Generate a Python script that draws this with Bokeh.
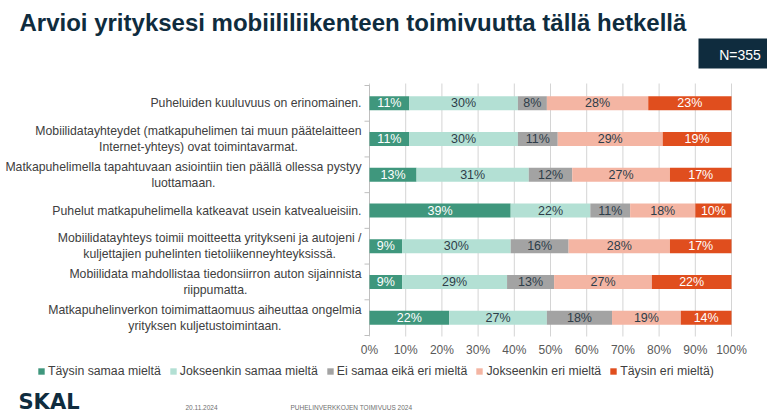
from bokeh.plotting import figure
from bokeh.models import Range1d, Label, Legend, LegendItem
from bokeh.embed import file_html
from bokeh.resources import INLINE
from bokeh.core.properties import value

# ---------------- data ----------------
title_text = "Arvioi yrityksesi mobiililiikenteen toimivuutta tällä hetkellä"
n_text = "N=355"
statements = [
    "Puheluiden kuuluvuus on erinomainen.",
    "Mobiilidatayhteydet (matkapuhelimen tai muun päätelaitteen\nInternet-yhteys) ovat toimintavarmat.",
    "Matkapuhelimella tapahtuvaan asiointiin tien päällä ollessa pystyy\nluottamaan.",
    "Puhelut matkapuhelimella katkeavat usein katvealueisiin.",
    "Mobiilidatayhteys toimii moitteetta yritykseni ja autojeni /\nkuljettajien puhelinten tietoliikenneyhteyksissä.",
    "Mobiilidata mahdollistaa tiedonsiirron auton sijainnista\nriippumatta.",
    "Matkapuhelinverkon toimimattaomuus aiheuttaa ongelmia\nyrityksen kuljetustoimintaan.",
]
series_names = ["Täysin samaa mieltä", "Jokseenkin samaa mieltä", "Ei samaa eikä eri mieltä",
                "Jokseenkin eri mieltä", "Täysin eri mieltä)"]
taysin_samaa = [11, 11, 13, 39, 9, 9, 22]
jokseenkin_samaa = [30, 30, 31, 22, 30, 29, 27]
ei_samaa_eika_eri = [8, 11, 12, 11, 16, 13, 18]
jokseenkin_eri = [28, 29, 27, 18, 28, 27, 19]
taysin_eri = [23, 19, 17, 10, 17, 22, 14]
series_values = [taysin_samaa, jokseenkin_samaa, ei_samaa_eika_eri, jokseenkin_eri, taysin_eri]
x_ticks = [0, 10, 20, 30, 40, 50, 60, 70, 80, 90, 100]
x_tick_labels = ["0%", "10%", "20%", "30%", "40%", "50%", "60%", "70%", "80%", "90%", "100%"]
footer_date = "20.11.2024"
footer_title = "PUHELINVERKKOJEN TOIMIVUUS 2024"
logo_text = "SKAL"

# ---------------- style ----------------
colors = ["#3f977d", "#b3e0d4", "#a3a3a3", "#f4b5a3", "#e04e1e"]
label_colors = ["white", "#2e3d49", "#2e3d49", "#2e3d49", "white"]
navy = "#0f2c3e"
FONT = "Liberation Sans"

W, H = 767, 415
# bar region in canvas pixel coordinates
FL, FR, FT, FB = 369, 731, 85, 335
NCAT = len(statements)


def fx(px):
    return (px - FL) / (FR - FL) * 100.0


def fy(py):
    return (py - FT) / (FB - FT) * NCAT


# Arial / Liberation Sans advance widths (1/1000 em) for centring wrapped lines
AW = {' ': 278, '(': 333, ')': 333, '-': 333, '.': 278, '/': 278, '%': 889,
      'A': 667, 'B': 667, 'C': 722, 'D': 722, 'E': 667, 'F': 611, 'G': 778, 'H': 722, 'I': 278,
      'J': 500, 'K': 667, 'L': 556, 'M': 833, 'N': 722, 'O': 778, 'P': 667, 'R': 722, 'S': 667,
      'T': 611, 'U': 722, 'V': 667,
      'a': 556, 'b': 556, 'c': 500, 'd': 556, 'e': 556, 'f': 278, 'g': 556, 'h': 556, 'i': 222,
      'j': 222, 'k': 500, 'l': 222, 'm': 833, 'n': 556, 'o': 556, 'p': 556, 'q': 556, 'r': 333,
      's': 500, 't': 278, 'u': 556, 'v': 500, 'w': 722, 'x': 500, 'y': 500, 'z': 500,
      'ä': 556, 'ö': 556}


def text_w(s, size):
    return sum(AW.get(c, 556) for c in s) / 1000.0 * size


p = figure(width=W, height=H, output_backend="svg", toolbar_location=None,
           x_range=Range1d(fx(0), fx(W)), y_range=Range1d(fy(H), fy(0)),
           x_axis_location=None, y_axis_location=None,
           min_border=0, min_border_left=0, min_border_right=0, min_border_top=0, min_border_bottom=0)
p.outline_line_color = None
p.background_fill_color = "white"
p.border_fill_color = "white"
p.xgrid.visible = False
p.ygrid.visible = False

# vertical gridlines at the x ticks
p.segment(x0=x_ticks, x1=x_ticks, y0=[fy(83)] * len(x_ticks), y1=[fy(336)] * len(x_ticks),
          line_color="#d4d4d4", line_width=1)
# left axis line and category-boundary ticks
bounds = list(range(NCAT + 1))
p.segment(x0=[0], x1=[0], y0=[0], y1=[NCAT], line_color="#bfbfbf", line_width=1)
p.segment(x0=[fx(364)] * len(bounds), x1=[0] * len(bounds), y0=bounds, y1=bounds,
          line_color="#bfbfbf", line_width=1)
# x tick labels
p.text(x=x_ticks, y=[fy(349)] * len(x_ticks), text=x_tick_labels, text_align="center",
       text_baseline="middle", text_font=value(FONT), text_font_size="12px", text_color="#595959")

# stacked bars
ys = [i + 0.5 for i in range(NCAT)]
left = [0.0] * NCAT
items = []
for name, vals, col, tcol in zip(series_names, series_values, colors, label_colors):
    right = [l + v for l, v in zip(left, vals)]
    r = p.hbar(y=ys, left=left, right=right, height=0.392, fill_color=col, line_color=None)
    items.append(LegendItem(label=name, renderers=[r]))
    p.text(x=[(l + rr) / 2 for l, rr in zip(left, right)], y=ys, text=[f"{v}%" for v in vals],
           text_align="center", text_baseline="middle", text_font=value(FONT),
           text_font_size="12.5px", text_color=tcol)
    left = right

legend = Legend(items=items, orientation="horizontal", location=(37, H - 378),
                padding=0, margin=0, spacing=8, label_standoff=3, glyph_width=8, glyph_height=8,
                label_height=14, label_text_font=FONT, label_text_font_size="12.3px",
                label_text_color="#404040", background_fill_alpha=0, border_line_color=None)
p.add_layout(legend, "center")

# category labels (right aligned block, centred lines)
CAT_SIZE = 12.25
for i, s in enumerate(statements):
    lines = s.split("\n")
    wmax = max(text_w(t, CAT_SIZE) for t in lines)
    cx = 361 - wmax / 2
    n = len(lines)
    for k, t in enumerate(lines):
        yy = ys[i] + (k - (n - 1) / 2) * (16 / (FB - FT) * NCAT)
        p.add_layout(Label(x=fx(cx), y=yy, text=t, text_align="center", text_baseline="middle",
                           text_font=FONT, text_font_size=f"{CAT_SIZE}px", text_color="#404040"))

# title
p.add_layout(Label(x=fx(19), y=fy(22), text=title_text, text_align="left", text_baseline="middle",
                   text_font=FONT, text_font_style="bold", text_font_size="24px", text_color=navy))
# N box
p.quad(left=[fx(698)], right=[fx(767)], top=[fy(38)], bottom=[fy(68)], fill_color=navy, line_color=None)
p.add_layout(Label(x=fx(739.5), y=fy(54), text=n_text, text_align="center", text_baseline="middle",
                   text_font=FONT, text_font_size="14px", text_color="white"))
# footer
p.add_layout(Label(x=fx(18), y=fy(401), text=logo_text, text_align="left", text_baseline="middle",
                   text_font="DejaVu Sans", text_font_style="bold", text_font_size="21px", text_color=navy))
p.add_layout(Label(x=fx(185), y=fy(407), text=footer_date, text_align="left", text_baseline="middle",
                   text_font=FONT, text_font_size="6.5px", text_color="#6f6f6f"))
p.add_layout(Label(x=fx(290), y=fy(407), text=footer_title, text_align="left", text_baseline="middle",
                   text_font=FONT, text_font_size="6.5px", text_color="#6f6f6f"))

open("out.html", "w").write(file_html(p, INLINE))
